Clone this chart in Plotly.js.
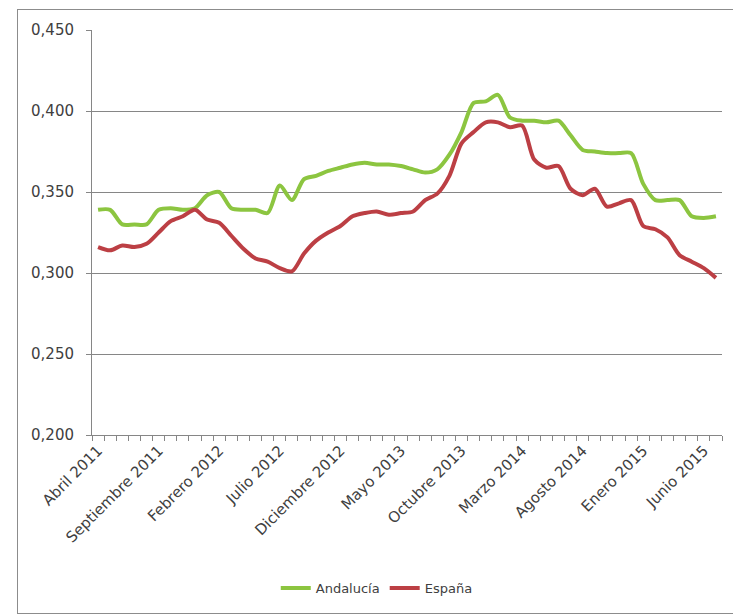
<!DOCTYPE html>
<html>
<head>
<meta charset="utf-8">
<script src="https://cdn.plot.ly/plotly-3.0.1.min.js"></script>
<style>
  html, body { margin: 0; padding: 0; background: #fff; overflow: hidden; }
  #wrap { position: relative; width: 733px; height: 616px; }
  #chart { position: absolute; left: 0; top: 0; width: 733px; height: 616px; }
  #frame { position: absolute; left: 17px; top: 9px; width: 740px; height: 603px; border: 1px solid #8c8c8c; pointer-events: none; }
</style>
</head>
<body>
<div id="wrap"><div id="chart"></div><div id="frame"></div></div>
<script>
const months = ["Abril 2011","Mayo 2011","Junio 2011","Julio 2011","Agosto 2011","Septiembre 2011","Octubre 2011","Noviembre 2011","Diciembre 2011","Enero 2012","Febrero 2012","Marzo 2012","Abril 2012","Mayo 2012","Junio 2012","Julio 2012","Agosto 2012","Septiembre 2012","Octubre 2012","Noviembre 2012","Diciembre 2012","Enero 2013","Febrero 2013","Marzo 2013","Abril 2013","Mayo 2013","Junio 2013","Julio 2013","Agosto 2013","Septiembre 2013","Octubre 2013","Noviembre 2013","Diciembre 2013","Enero 2014","Febrero 2014","Marzo 2014","Abril 2014","Mayo 2014","Junio 2014","Julio 2014","Agosto 2014","Septiembre 2014","Octubre 2014","Noviembre 2014","Diciembre 2014","Enero 2015","Febrero 2015","Marzo 2015","Abril 2015","Mayo 2015","Junio 2015","Julio 2015"];

const andalucia = [0.339,0.339,0.330,0.330,0.330,0.339,0.340,0.339,0.340,0.348,0.350,0.340,0.339,0.339,0.337,0.354,0.345,0.358,0.360,0.363,0.365,0.367,0.368,0.367,0.367,0.366,0.364,0.362,0.364,0.373,0.387,0.405,0.406,0.410,0.396,0.394,0.394,0.393,0.394,0.385,0.376,0.375,0.374,0.374,0.374,0.355,0.345,0.345,0.345,0.335,0.334,0.335];

const espana = [0.316,0.314,0.317,0.316,0.318,0.325,0.332,0.335,0.339,0.333,0.331,0.323,0.315,0.309,0.307,0.303,0.301,0.312,0.320,0.325,0.329,0.335,0.337,0.338,0.336,0.337,0.338,0.345,0.349,0.360,0.380,0.387,0.393,0.393,0.390,0.391,0.370,0.365,0.366,0.352,0.348,0.352,0.341,0.343,0.345,0.329,0.327,0.322,0.311,0.307,0.303,0.297];

const seriesNames = ["Andalucía", "España"];
const labelStep = 5;

const xIdx = months.map((_, i) => i);
const tickIdx = xIdx.filter(i => i % labelStep === 0);
const tickLabels = tickIdx.map(i => months[i]);
const boundaries = months.map((_, i) => i - 0.5).concat([months.length - 0.5]);

const font = "'DejaVu Sans', 'Open Sans', sans-serif";
const textColor = "#404040";
const gray = "#868686";

const traces = [
  { x: xIdx, y: andalucia, name: seriesNames[0], type: "scatter", mode: "lines",
    line: { color: "#8cc540", width: 4, shape: "spline", smoothing: 0.8 } },
  { x: xIdx, y: espana, name: seriesNames[1], type: "scatter", mode: "lines",
    line: { color: "#bc3f44", width: 4, shape: "spline", smoothing: 0.8 } }
];

const layout = {
  width: 733, height: 616,
  margin: { l: 92, r: 11, t: 30, b: 181 },
  paper_bgcolor: "#ffffff", plot_bgcolor: "#ffffff",
  separators: ",.",
  font: { family: font, size: 14, color: textColor },
  showlegend: true,
  legend: { orientation: "h", x: 0.452, xanchor: "center", y: -0.378, yanchor: "middle",
            font: { family: font, size: 13, color: textColor }, tracegroupgap: 0 },
  xaxis: {
    range: [-0.5, months.length - 0.5],
    tickmode: "array", tickvals: tickIdx, ticktext: tickLabels,
    tickangle: -45, ticks: "",
    showgrid: false, zeroline: false,
    showline: true, linecolor: gray, linewidth: 1,
    tickfont: { family: font, size: 15, color: textColor },
    minor: { tickmode: "array", tickvals: boundaries, ticks: "outside", ticklen: 5, tickcolor: gray, tickwidth: 1, showgrid: false }
  },
  yaxis: {
    range: [0.2, 0.45], tickmode: "linear", tick0: 0.2, dtick: 0.05,
    tickformat: ".3f",
    ticks: "outside", ticklen: 5, tickcolor: gray,
    showgrid: true, gridcolor: gray, gridwidth: 1,
    zeroline: false, showline: true, linecolor: gray, linewidth: 1,
    ticklabelstandoff: 9,
    tickfont: { family: font, size: 15, color: textColor }
  }
};

Plotly.newPlot("chart", traces, layout, { displayModeBar: false, staticPlot: true });
</script>
</body>
</html>
